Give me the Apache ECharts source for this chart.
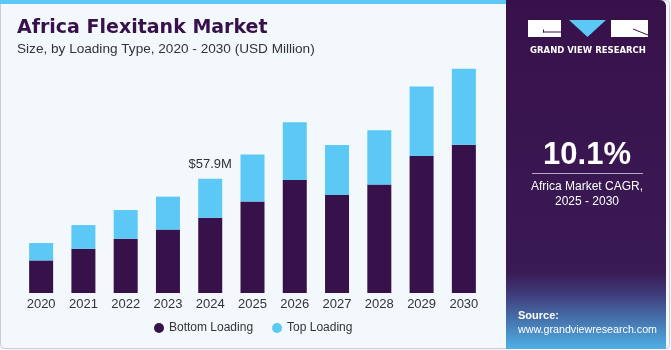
<!DOCTYPE html>
<html><head><meta charset="utf-8">
<script src="https://cdn.jsdelivr.net/npm/echarts@6/dist/echarts.min.js"></script>
<style>html,body{margin:0;padding:0;background:#fff}#c{width:671px;height:350px}</style>
</head><body><div id="c"></div>
<script>
const categories = ['2020','2021','2022','2023','2024','2025','2026','2027','2028','2029','2030'];
const bottomLoading = [16.5, 22.4, 27.5, 32.1, 38.1, 46.3, 57.2, 49.6, 54.9, 69.4, 75.1];
const topLoading = [8.8, 12.0, 14.5, 16.7, 19.8, 23.8, 29.2, 25.4, 27.5, 35.1, 38.4];
const labelText = '$57.9M';
const labelIndex = 4;

const chart = echarts.init(document.getElementById('c'), null, {renderer:'canvas'});
const font = '"Liberation Sans", Arial, sans-serif';
const dfont = '"DejaVu Sans", sans-serif';
chart.setOption({
  animation:false,
  backgroundColor:'#F3F8FC',
  graphic:[
    {type:'rect', shape:{x:0,y:0,width:506,height:4}, style:{fill:'#5BC8F5'}, z:-1},
    {type:'rect', shape:{x:0.5,y:0.5,width:669,height:348, r:4}, style:{fill:'none', stroke:'#C9CED3', lineWidth:1}, z:-2},
    {type:'rect', shape:{x:506,y:0,width:160,height:349, r:[0,6,0,0]}, style:{fill:new echarts.graphic.LinearGradient(0,0,0,1,[
      {offset:0,color:'#38114A'},{offset:0.78,color:'#3A1A55'},{offset:0.84,color:'#3E3A78'},{offset:1,color:'#4FB0E6'}])}, z:0},
    // logo
    {type:'rect', shape:{x:528,y:20,width:33,height:17}, style:{fill:'#fff'}, z:1},
    {type:'line', shape:{x1:543,y1:32,x2:561,y2:32}, style:{stroke:'#38114A', lineWidth:1}, z:2},
    {type:'line', shape:{x1:543.5,y1:29.5,x2:543.5,y2:32.5}, style:{stroke:'#38114A', lineWidth:1}, z:2},
    {type:'polygon', shape:{points:[[569,20],[606,20],[587.5,37]]}, style:{fill:'#5BC8F5'}, z:1},
    {type:'rect', shape:{x:611,y:20,width:37,height:17}, style:{fill:'#fff'}, z:1},
    {type:'line', shape:{x1:633,y1:29,x2:648,y2:35}, style:{stroke:'#38114A', lineWidth:1}, z:2},
    {type:'text', style:{x:588,y:51,text:'GRAND VIEW RESEARCH', fill:'#fff', font:'bold 8.5px '+dfont, textAlign:'center', textVerticalAlign:'middle'}, z:1},
    {type:'text', style:{x:587,y:155,text:'10.1%', fill:'#fff', font:'bold 31px '+font, textAlign:'center', textVerticalAlign:'middle'}, z:1},
    {type:'rect', shape:{x:532,y:173,width:111,height:1}, style:{fill:'#B9A9C6'}, z:1},
    {type:'text', style:{x:587,y:187,text:'Africa Market CAGR,', fill:'#fff', font:'12px '+font, textAlign:'center', textVerticalAlign:'middle'}, z:1},
    {type:'text', style:{x:587,y:202,text:'2025 - 2030', fill:'#fff', font:'12px '+font, textAlign:'center', textVerticalAlign:'middle'}, z:1},
    {type:'text', style:{x:518,y:316,text:'Source:', fill:'#fff', font:'bold 11px '+font, textVerticalAlign:'middle'}, z:1},
    {type:'text', style:{x:518,y:330,text:'www.grandviewresearch.com', fill:'#fff', font:'10.7px '+font, textVerticalAlign:'middle'}, z:1},
    // titles
    {type:'text', style:{x:17,y:28,text:'Africa Flexitank Market', fill:'#37124A', font:'bold 19px '+dfont, textVerticalAlign:'middle'}, z:1},
    {type:'text', style:{x:17,y:49,text:'Size, by Loading Type, 2020 - 2030 (USD Million)', fill:'#333', font:'13.6px '+font, textVerticalAlign:'middle'}, z:1}
  ],
  grid:{left:20, width:465, top:56, height:237},
  legend:{
    data:['Bottom Loading','Top Loading'], left:149, top:317, icon:'circle', itemWidth:10, itemHeight:10, itemGap:19,
    textStyle:{fontFamily:font, fontSize:12, color:'#333'}
  },
  xAxis:{type:'category', data:categories, axisLine:{show:false}, axisTick:{show:false},
    axisLabel:{fontFamily:font, fontSize:13, color:'#333', margin:5}},
  yAxis:{type:'value', min:0, max:120, show:false, splitLine:{show:false}},
  series:[
    {name:'Bottom Loading', type:'bar', stack:'a', data:bottomLoading, barWidth:24,
      itemStyle:{color:'#37124A'}},
    {name:'Top Loading', type:'bar', stack:'a', data:topLoading, barWidth:24,
      itemStyle:{color:'#5BC8F5'},
      label:{show:true, position:'top', distance:8, fontFamily:font, fontSize:13, color:'#333',
        formatter:p => p.dataIndex === labelIndex ? labelText : ''}}
  ]
});
</script></body></html>
